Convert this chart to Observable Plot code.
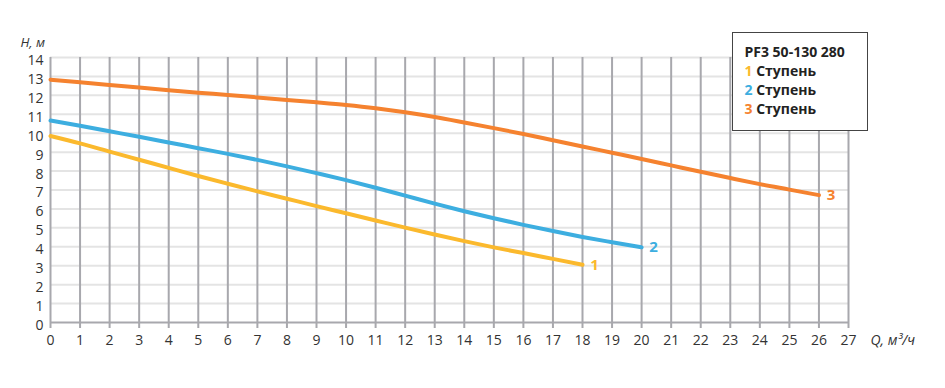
<!DOCTYPE html>
<html>
<head>
<meta charset="utf-8">
<script src="https://cdn.jsdelivr.net/npm/d3@7"></script>
<script src="https://cdn.jsdelivr.net/npm/@observablehq/plot@0.6"></script>
<style>
  body { margin: 0; background: #fff; }
  #wrap { position: relative; width: 945px; height: 388px; font-family: "Open Sans", sans-serif; }
  #legend {
    position: absolute; left: 732px; top: 32px; width: 136px; height: 99px;
    box-sizing: border-box; border: 1.5px solid #444; background: #fff;
    padding: 9px 0 0 11.5px; font-weight: 700; font-size: 14px; line-height: 19px; color: #222;
  }
</style>
</head>
<body>
<div id="wrap"></div>
<script>
const title = "PF3 50-130 280";
const seriesNames = ["1", "2", "3"];
const legendWord = "Ступень";
const colors = ["#fbb92d", "#3daee0", "#f5822f"];
const xTicks = d3.range(0, 28);
const yTicks = d3.range(0, 15);

const q1 = [0,1,2,3,4,5,6,7,8,9,10,11,12,13,14,15,16,17,18];
const h1 = [9.85,9.46,9.03,8.6,8.17,7.74,7.33,6.93,6.54,6.15,5.77,5.39,5.01,4.65,4.3,3.97,3.67,3.36,3.05];
const q2 = [0,1,2,3,4,5,6,7,8,9,10,11,12,13,14,15,16,17,18,19,20];
const h2 = [10.67,10.39,10.1,9.81,9.51,9.21,8.91,8.59,8.25,7.89,7.52,7.12,6.7,6.28,5.88,5.51,5.16,4.83,4.52,4.24,3.97];
const q3 = [0,1,2,3,4,5,6,7,8,9,10,11,12,13,14,15,16,17,18,19,20,21,22,23,24,25,26];
const h3 = [12.83,12.69,12.55,12.41,12.27,12.14,12.02,11.89,11.76,11.63,11.49,11.32,11.11,10.86,10.57,10.27,9.96,9.63,9.3,8.97,8.64,8.3,7.96,7.63,7.31,7.02,6.73];

const qs = [q1, q2, q3], hs = [h1, h2, h3];
const data = [];
qs.forEach((q, i) => q.forEach((v, j) => data.push({q: v, h: hs[i][j], s: seriesNames[i]})));
const ends = qs.map((q, i) => ({q: q[q.length - 1], h: hs[i][hs[i].length - 1], s: seriesNames[i]}));

const gridV = "#a8a8ad", gridH = "#e4e4e4", txt = "#333";

const chart = Plot.plot({
  width: 945, height: 388,
  marginLeft: 50, marginRight: 97, marginTop: 57, marginBottom: 66,
  style: {fontFamily: "Open Sans, sans-serif", background: "#fff"},
  x: {domain: [0, 27]},
  y: {domain: [0, 14]},
  color: {domain: seriesNames, range: colors},
  marks: [
    Plot.ruleY(yTicks.filter(d => d > 0), {stroke: gridH, strokeWidth: 2}),
    Plot.ruleX(xTicks, {stroke: gridV, strokeWidth: 2}),
    Plot.ruleY([0], {stroke: gridV, strokeWidth: 2}),
    Plot.axisX({ticks: xTicks, tickSize: 6, tickPadding: 7, stroke: gridV, strokeWidth: 2, fill: txt, fontSize: 14, label: null}),
    Plot.axisY({ticks: yTicks, tickSize: 0, tickPadding: 7, dy: 3, fill: txt, fontSize: 14, label: null}),
    Plot.line(data, {x: "q", y: "h", z: "s", stroke: "s", strokeWidth: 4, curve: "monotone-x"}),
    Plot.text(ends, {x: "q", y: "h", text: "s", fill: "s", dx: 12, fontSize: 15, fontWeight: 700}),
    Plot.text(["H, м"], {frameAnchor: "top-left", dx: -30, dy: -20, textAnchor: "start", fontSize: 13, fontStyle: "italic", fill: txt}),
    Plot.text(["Q, м³/ч"], {frameAnchor: "bottom-right", dx: 22, dy: 22, textAnchor: "start", fontSize: 14, fontStyle: "italic", fill: txt})
  ]
});
const wrap = document.getElementById("wrap");
wrap.appendChild(chart);

const legend = document.createElement("div");
legend.id = "legend";
const t = document.createElement("div");
t.textContent = title;
legend.appendChild(t);
seriesNames.forEach((s, i) => {
  const row = document.createElement("div");
  const n = document.createElement("span");
  n.textContent = s;
  n.style.color = colors[i];
  row.appendChild(n);
  row.appendChild(document.createTextNode(" " + legendWord));
  legend.appendChild(row);
});
wrap.appendChild(legend);
</script>
</body>
</html>
